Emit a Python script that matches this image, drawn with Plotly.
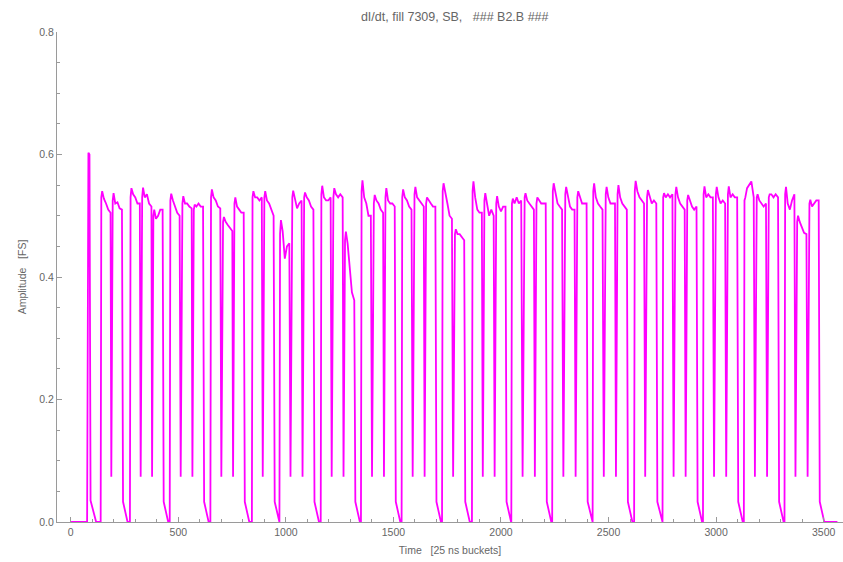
import plotly.graph_objects as go

# Bunch-current derivative along the ring, fill 7309, beam 2 (units: 25 ns buckets / full scale)

# Isolated pilot bunch at the head of the pattern
pilot_x = [0, 76, 82, 87, 92, 118]
pilot_y = [0.0, 0.0, 0.603, 0.600, 0.035, 0.0]

# Train start buckets, one list per injection
group_starts = [
    [139, 192],
    [275, 329, 381],
    [460, 516, 569],
    [649, 705, 758],
    [842, 897],
    [970, 1027, 1082],
    [1162, 1218, 1272],
    [1349, 1406, 1460],
    [1538, 1595, 1649],
    [1726, 1783],
    [1865, 1920, 1975],
    [2048, 2107, 2162],
    [2238, 2296, 2352],
    [2426, 2484, 2539],
    [2619, 2676],
    [2751, 2808, 2863],
    [2939, 2996, 3052],
    [3129, 3186, 3242],
    [3318, 3374, 3431],
]

# Amplitude along each train, sampled at these bucket offsets from the train start
profile_offsets = [3, 7, 15, 25, 35, 46]
train_profiles = [
    [0.530, 0.540, 0.528, 0.520, 0.510, 0.505],
    [0.525, 0.537, 0.520, 0.522, 0.512, 0.510],
    [0.530, 0.545, 0.535, 0.530, 0.520, 0.520],
    [0.530, 0.546, 0.530, 0.535, 0.520, 0.515],
    [0.500, 0.510, 0.495, 0.500, 0.510, 0.510],
    [0.525, 0.536, 0.525, 0.515, 0.505, 0.500],
    [0.520, 0.532, 0.520, 0.520, 0.515, 0.512],
    [0.510, 0.518, 0.515, 0.520, 0.515, 0.515],
    [0.530, 0.543, 0.530, 0.525, 0.515, 0.512],
    [0.490, 0.498, 0.490, 0.485, 0.480, 0.475],
    [0.520, 0.530, 0.515, 0.510, 0.505, 0.505],
    [0.530, 0.540, 0.530, 0.530, 0.525, 0.530],
    [0.530, 0.540, 0.525, 0.520, 0.510, 0.500],
    [0.470, 0.493, 0.475, 0.430, 0.450, 0.455],
    [0.530, 0.541, 0.525, 0.512, 0.520, 0.525],
    [0.530, 0.538, 0.530, 0.525, 0.515, 0.510],
    [0.535, 0.549, 0.530, 0.525, 0.525, 0.530],
    [0.530, 0.545, 0.535, 0.530, 0.535, 0.530],
    [0.460, 0.474, 0.455, 0.420, 0.375, 0.362],
    [0.540, 0.558, 0.530, 0.520, 0.500, 0.500],
    [0.520, 0.534, 0.525, 0.520, 0.510, 0.505],
    [0.530, 0.545, 0.525, 0.520, 0.520, 0.515],
    [0.530, 0.543, 0.530, 0.525, 0.515, 0.510],
    [0.535, 0.547, 0.530, 0.525, 0.520, 0.515],
    [0.520, 0.530, 0.525, 0.520, 0.515, 0.515],
    [0.540, 0.553, 0.535, 0.520, 0.500, 0.495],
    [0.470, 0.478, 0.470, 0.470, 0.465, 0.460],
    [0.540, 0.556, 0.530, 0.510, 0.505, 0.505],
    [0.525, 0.537, 0.520, 0.500, 0.510, 0.500],
    [0.520, 0.532, 0.515, 0.507, 0.515, 0.515],
    [0.520, 0.528, 0.520, 0.530, 0.520, 0.525],
    [0.530, 0.537, 0.525, 0.520, 0.515, 0.510],
    [0.520, 0.530, 0.525, 0.520, 0.520, 0.520],
    [0.540, 0.553, 0.535, 0.520, 0.515, 0.510],
    [0.535, 0.547, 0.530, 0.515, 0.510, 0.510],
    [0.530, 0.540, 0.530, 0.520, 0.520, 0.520],
    [0.540, 0.553, 0.530, 0.520, 0.515, 0.510],
    [0.535, 0.547, 0.530, 0.520, 0.520, 0.520],
    [0.535, 0.550, 0.530, 0.520, 0.515, 0.510],
    [0.540, 0.557, 0.540, 0.530, 0.525, 0.520],
    [0.530, 0.542, 0.530, 0.520, 0.525, 0.520],
    [0.530, 0.537, 0.530, 0.535, 0.530, 0.535],
    [0.535, 0.547, 0.530, 0.520, 0.515, 0.510],
    [0.525, 0.534, 0.525, 0.515, 0.510, 0.515],
    [0.535, 0.548, 0.530, 0.535, 0.530, 0.530],
    [0.535, 0.547, 0.530, 0.520, 0.525, 0.520],
    [0.535, 0.548, 0.530, 0.535, 0.530, 0.530],
    [0.525, 0.530, 0.545, 0.550, 0.556, 0.530],
    [0.530, 0.535, 0.525, 0.520, 0.515, 0.520],
    [0.530, 0.535, 0.535, 0.530, 0.535, 0.530],
    [0.535, 0.547, 0.520, 0.510, 0.525, 0.535],
    [0.490, 0.500, 0.490, 0.480, 0.472, 0.470],
    [0.520, 0.526, 0.515, 0.520, 0.525, 0.525],
]

# Levels reached in the gaps
short_gap_floor = 0.074   # 8-bucket gap between trains of one injection
tail_level = 0.033        # fast part of the fall after the last train
fall_buckets = [5, 26]    # after train end: fast fall, then slow tail to zero
ring_end = 3564

# Assemble the trace vertices
x = list(pilot_x)
y = list(pilot_y)
k = 0
for starts in group_starts:
    for j, s in enumerate(starts):
        prof = train_profiles[k]
        k += 1
        if j == 0:
            x.append(s)
            y.append(0.0)
        else:
            prev_end = x[-1]
            x.append((prev_end + s) / 2)
            y.append(short_gap_floor)
        for off, v in zip(profile_offsets, prof):
            x.append(s + off)
            y.append(v)
        if j == len(starts) - 1:
            e = s + profile_offsets[-1]
            x.append(e + fall_buckets[0])
            y.append(tail_level)
            x.append(e + fall_buckets[1])
            y.append(0.0)
x.append(ring_end)
y.append(0.0)

axis_color = "#9a9a9a"
text_color = "#666666"
font_family = "Liberation Sans, Arial, sans-serif"

fig = go.Figure(
    go.Scatter(
        x=x, y=y, mode="lines",
        line=dict(color="#ff00ff", width=1.8),
        hoverinfo="skip",
    )
)

fig.update_layout(
    width=843, height=562,
    margin=dict(l=57, r=0, t=32, b=40),
    paper_bgcolor="white", plot_bgcolor="white",
    showlegend=False,
    font=dict(family=font_family, size=10, color=text_color),
    title=dict(
        text="dI/dt, fill 7309, SB,\u00a0\u00a0\u00a0### B2.B ###",
        x=0.506, xref="paper", y=0.971, yref="container",
        xanchor="center", yanchor="middle",
        font=dict(family=font_family, size=12.5, color=text_color),
    ),
    xaxis=dict(
        range=[-64, 3590],
        showgrid=False, zeroline=False,
        showline=True, linecolor=axis_color, linewidth=1,
        ticks="inside", ticklen=5, tickcolor=axis_color, tickwidth=1,
        tick0=0, dtick=500,
        minor=dict(ticks="inside", ticklen=3, tickcolor=axis_color, dtick=100, tick0=0),
        tickfont=dict(size=10.5, color=text_color),
        title=dict(text="Time\u00a0\u00a0\u00a0[25 ns buckets]", standoff=10,
                   font=dict(size=10.5, color=text_color)),
    ),
    yaxis=dict(
        range=[0, 0.8],
        showgrid=False, zeroline=False,
        showline=True, linecolor=axis_color, linewidth=1,
        ticks="inside", ticklen=5, tickcolor=axis_color, tickwidth=1,
        tick0=0, dtick=0.2, tickformat=".1f",
        minor=dict(ticks="inside", ticklen=3, tickcolor=axis_color, dtick=0.05, tick0=0),
        tickfont=dict(size=10.5, color=text_color),
        title=dict(text="Amplitude\u00a0\u00a0\u00a0[FS]", standoff=10,
                   font=dict(size=10.5, color=text_color)),
    ),
)

fig.write_html("out.html")
